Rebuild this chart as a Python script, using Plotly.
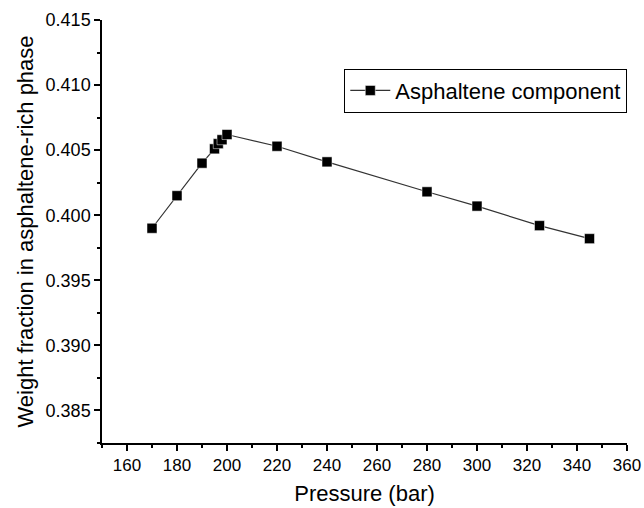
import plotly.graph_objects as go

# Pressure (bar) and asphaltene weight fraction in the asphaltene-rich phase
pressure = [170, 180, 190, 195, 196.5, 198, 200, 220, 240, 280, 300, 325, 345]
weight_fraction = [0.3990, 0.4015, 0.4040, 0.4051, 0.4055, 0.4058, 0.4062,
                   0.4053, 0.4041, 0.4018, 0.4007, 0.3992, 0.3982]
series_name = "Asphaltene component"

FONT = "Liberation Sans, Arial, sans-serif"

fig = go.Figure()
fig.add_trace(go.Scatter(
    x=pressure,
    y=weight_fraction,
    mode="lines+markers",
    name=series_name,
    line=dict(color="#333333", width=1.2),
    marker=dict(symbol="square", size=10, color="black",
                line=dict(color="white", width=0.5)),
))

axis_common = dict(
    showline=True,
    linecolor="black",
    linewidth=1.5,
    ticks="outside",
    ticklen=6,
    tickwidth=1.5,
    tickcolor="black",
    showgrid=False,
    zeroline=False,
    mirror=False,
    automargin=False,
)

fig.update_xaxes(
    range=[150, 360],
    tick0=160,
    dtick=20,
    tickfont=dict(family=FONT, size=17, color="black"),
    minor=dict(dtick=10, ticks="outside", ticklen=3, tickwidth=1.5,
               tickcolor="black", showgrid=False),
    title=dict(text="Pressure (bar)", font=dict(family=FONT, size=22, color="black"),
               standoff=11),
    **axis_common,
)
fig.update_yaxes(
    range=[0.3825, 0.415],
    tick0=0.385,
    dtick=0.005,
    tickformat=".3f",
    tickfont=dict(family=FONT, size=18, color="black"),
    minor=dict(dtick=0.0025, ticks="outside", ticklen=3, tickwidth=1.5,
               tickcolor="black", showgrid=False),
    title=dict(text="Weight fraction in asphaltene-rich phase",
               font=dict(family=FONT, size=22, color="black"), standoff=6),
    **axis_common,
)

fig.update_layout(
    width=644,
    height=508,
    margin=dict(l=102, r=17, t=20, b=65),
    paper_bgcolor="white",
    plot_bgcolor="white",
    showlegend=True,
    legend=dict(
        x=0.4615,
        y=0.885,
        xanchor="left",
        yanchor="top",
        bordercolor="black",
        borderwidth=1,
        bgcolor="white",
        font=dict(family=FONT, size=22, color="black"),
        itemwidth=40,
        tracegroupgap=0,
    ),
)

fig.write_html("out.html")
